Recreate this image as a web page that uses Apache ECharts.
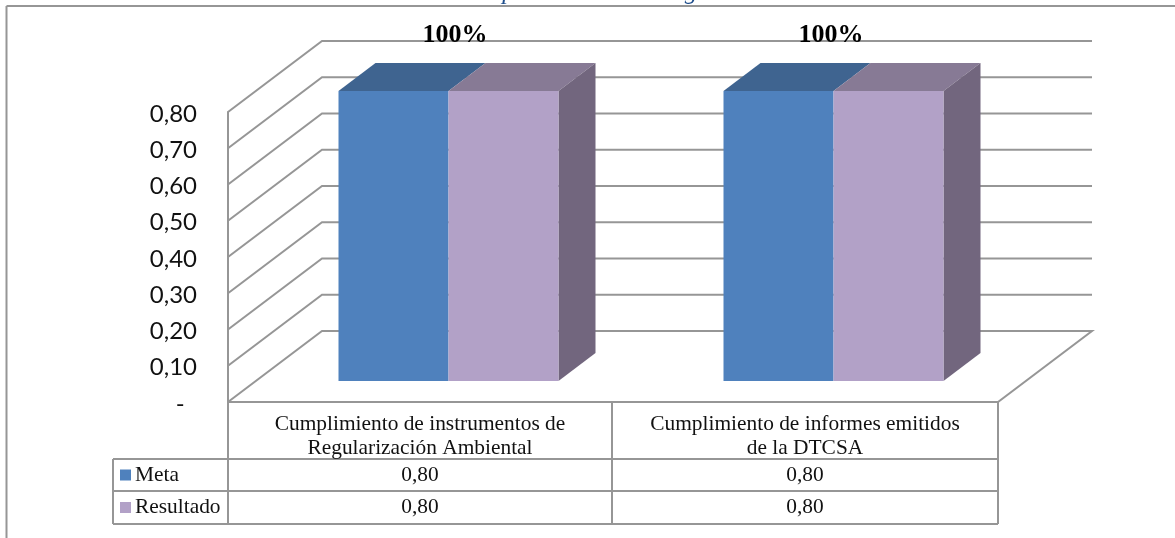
<!DOCTYPE html>
<html><head><meta charset="utf-8">
<style>html,body{margin:0;padding:0;background:#fff}#c{width:1175px;height:538px}</style>
<script src="https://cdn.jsdelivr.net/npm/echarts@6/dist/echarts.min.js"></script>
</head><body><div id="c"></div>
<script>
const categories = ['Cumplimiento de instrumentos de\nRegularización Ambiental', 'Cumplimiento de informes emitidos\nde la DTCSA'];
const seriesNames = ['Meta', 'Resultado'];
const meta = [0.80, 0.80];
const resultado = [0.80, 0.80];
const compliance = ['100%', '100%'];
const yTicks = [0, 0.1, 0.2, 0.3, 0.4, 0.5, 0.6, 0.7, 0.8];

const GX0 = 228, GX1 = 998, GY0 = 402, GY1 = 112;
const WALL = [94, -71];
const BAR_OFF = [28, -21];
const BAR_DEPTH = [37, -28];
const GREY = '#969696';
const fmt = v => v === 0 ? '-\u00a0\u00a0' : v.toFixed(2).replace('.', ',');

const chart = echarts.init(document.getElementById('c'), null, {renderer: 'canvas'});

function wallRender(params, api) {
  const p = api.coord([0, api.value(0)]);
  const x = GX0, y = p[1];
  let pts = [[x, y], [x + WALL[0], y + WALL[1]], [GX1 + WALL[0], y + WALL[1]]];
  if (api.value(0) === 0) pts = pts.concat([[GX1, y], [x, y]]);
  return {type: 'group', children: [{type: 'polyline', shape: {points: pts}, style: {stroke: GREY, lineWidth: 2, fill: null}}]};
}
function barRender(s) {
  return function (params, api) {
    const cat = api.value(0), val = api.value(1);
    const band = (GX1 - GX0) / categories.length;
    const w = 110;
    const cx = GX0 + band * cat + band / 2 + BAR_OFF[0];
    const X0 = cx + (s === 0 ? -w : 0);
    const X1 = X0 + w;
    const b = api.coord([cat, 0])[1] + BAR_OFF[1];
    const t = api.coord([cat, val])[1] + BAR_OFF[1];
    const [dx, dy] = BAR_DEPTH;
    const front = s === 0 ? '#4f81bd' : '#b2a1c7';
    const top = s === 0 ? '#3f6490' : '#877a95';
    const side = '#72667e';
    const kids = [];
    kids.push({type: 'polygon', shape: {points: [[X0, t], [X1, t], [X1 + dx, t + dy], [X0 + dx, t + dy]]}, style: {fill: top}});
    if (s === 1) kids.push({type: 'polygon', shape: {points: [[X1, t], [X1 + dx, t + dy], [X1 + dx, b + dy], [X1, b]]}, style: {fill: side}});
    kids.push({type: 'rect', shape: {x: X0, y: t, width: X1 - X0, height: b - t}, style: {fill: front}});
    return {type: 'group', children: kids};
  };
}

const rowsX = [113, 228, 612, 998];
const rowsY = [402, 459, 491, 524];
const tableGraphics = [];
function ln(x1, y1, x2, y2, lw) {
  tableGraphics.push({type: 'line', silent: true, z: 5, shape: {x1, y1, x2, y2}, style: {stroke: GREY, lineWidth: lw || 2}});
}
ln(6.5, 6, 1175, 6); ln(6.5, 6, 6.5, 538);
ln(228, 402, 228, 524); ln(612, 402, 612, 524); ln(998, 402, 998, 524);
ln(113, 459, 998, 459); ln(113, 491, 998, 491); ln(113, 524, 998, 524); ln(113, 459, 113, 524);
const serif = '"Liberation Serif", "Times New Roman", serif';
function txt(x, y, text, align, extra) {
  tableGraphics.push({type: 'text', silent: true, z: 6, x, y, style: Object.assign({text, align: align || 'center', verticalAlign: 'middle', font: '21.4px ' + serif, fill: '#111', lineHeight: 24}, extra || {})});
}
categories.forEach((c, i) => txt((rowsX[i + 1] + rowsX[i + 2]) / 2, 436, c, 'center', {lineHeight: 24}));
[meta, resultado].forEach((arr, r) => {
  const yc = (rowsY[r + 1] + rowsY[r + 2]) / 2;
  tableGraphics.push({type: 'rect', silent: true, z: 6, shape: {x: 120, y: yc - 5.5, width: 11, height: 11}, style: {fill: r === 0 ? '#4f81bd' : '#b2a1c7'}});
  txt(135, yc, seriesNames[r], 'left');
  arr.forEach((v, i) => txt((rowsX[i + 1] + rowsX[i + 2]) / 2, yc, fmt(v)));
});
compliance.forEach((c, i) => {
  txt(i === 0 ? 455 : 831, 35, c, 'center', {font: 'bold 26px ' + serif, fill: '#000'});
});
txt(455, -8, 'Cumplimiento de la Regularización', 'left', {font: 'italic 25px ' + serif, fill: '#1f4e8c'});

chart.setOption({
  animation: false,
  backgroundColor: '#fff',
  grid: {left: GX0, right: 1175 - GX1, top: GY1, bottom: 538 - GY0, containLabel: false},
  xAxis: {type: 'category', data: categories, show: false},
  yAxis: {
    type: 'value', min: 0, max: 0.8, interval: 0.1,
    axisLine: {show: true, lineStyle: {color: GREY, width: 2}},
    axisTick: {show: false}, splitLine: {show: false},
    axisLabel: {
      formatter: v => '{a|' + fmt(v) + '}', margin: 31, align: 'right',
      rich: {a: {fontFamily: 'Lato, "Open Sans", sans-serif', fontSize: 24, color: '#111', lineHeight: 24, padding: [4, 0, 0, 0]}}
    }
  },
  series: [
    {name: 'grid', type: 'custom', coordinateSystem: 'cartesian2d', renderItem: wallRender, data: yTicks.map(v => [v]), encode: {y: 0}, silent: true, z: 1, clip: false},
    {name: seriesNames[0], type: 'custom', renderItem: barRender(0), data: meta.map((v, i) => [i, v]), encode: {x: 0, y: 1}, silent: true, z: 2, clip: false},
    {name: seriesNames[1], type: 'custom', renderItem: barRender(1), data: resultado.map((v, i) => [i, v]), encode: {x: 0, y: 1}, silent: true, z: 3, clip: false}
  ],
  graphic: tableGraphics
});
</script></body></html>
